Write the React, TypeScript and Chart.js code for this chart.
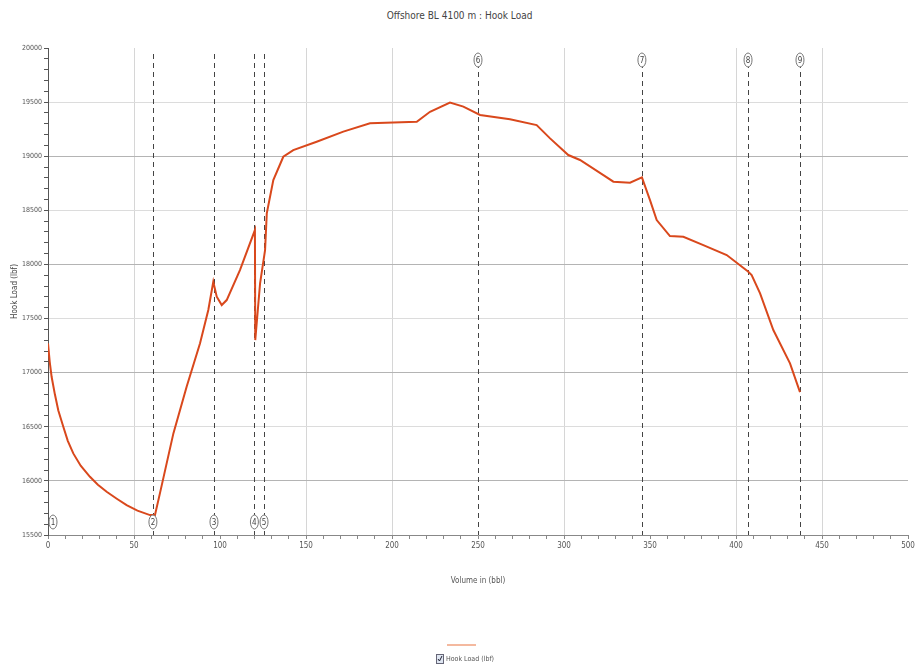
import React, { useEffect, useRef } from 'react';
import { Chart, registerables } from 'chart.js';

Chart.register(...registerables);

const chartTitle = 'Offshore BL 4100 m : Hook Load';
const xAxisTitle = 'Volume in (bbl)';
const yAxisTitle = 'Hook Load (lbf)';
const seriesLabel = 'Hook Load (lbf)';

const volumes = [
  0, 1, 2.1, 4, 6, 8.9, 11.5, 14.7, 19, 24.4, 29, 34.1, 40, 45.7, 52, 59.3, 62.2, 65.1, 72.9, 80.6, 88.4, 93.2, 96.1, 98.1,
  101, 103.9, 111.6, 120.3, 120.5, 123.3, 126.2, 127.2, 131, 136.8, 142.6, 156.2, 171.7, 187.2,
  214.4, 222.1, 233.7, 241.5, 251.2, 268.6, 284.1, 291.9, 302.5, 309.3, 322.9, 328.7, 338.4,
  345.3, 350, 353.9, 361.6, 369.4, 381, 394.6, 407, 409.1, 414, 421.7, 431.4, 437.2,
];
const hookLoads = [
  17270, 17100, 16962, 16800, 16650, 16500, 16370, 16254, 16140, 16038, 15965, 15899, 15835, 15776, 15725, 15684, 15684, 15887, 16439, 16870, 17271, 17579, 17840, 17702,
  17625, 17671, 17948, 18318, 17301, 17825, 18133, 18472, 18780, 18995, 19057, 19134, 19227, 19304,
  19319, 19411, 19495, 19458, 19381, 19341, 19288, 19165, 19011, 18965, 18826, 18765, 18755,
  18805, 18595, 18410, 18262, 18256, 18179, 18087, 17935, 17902, 17733, 17394, 17086, 16820,
];

const markerVolumes = [0, 61, 96.5, 120, 125.6, 250, 345.3, 407, 437.2];
const markerLabels = ['1', '2', '3', '4', '5', '6', '7', '8', '9'];

const xTickValues = [0, 50, 100, 150, 200, 250, 300, 350, 400, 450, 500];
const xGridValues = [50, 150, 200, 300, 400, 450];
const yTickValues = [15500, 16000, 16500, 17000, 17500, 18000, 18500, 19000, 19500, 20000];

const FONT = "'Liberation Sans Narrow', 'DejaVu Sans Condensed', 'Arial Narrow', sans-serif";

const markerPlugin = {
  id: 'markers',
  beforeDatasetsDraw(chart: any) {
    const { ctx, chartArea, scales } = chart;
    ctx.save();
    ctx.strokeStyle = '#444';
    ctx.lineWidth = 1;
    ctx.setLineDash([5, 4]);
    markerVolumes.forEach((v) => {
      if (v === 0) return;
      const x = Math.round(scales.x.getPixelForValue(v)) + 0.5;
      ctx.beginPath();
      ctx.moveTo(x, chartArea.top + 6);
      ctx.lineTo(x, chartArea.bottom);
      ctx.stroke();
    });
    ctx.restore();
  },
  afterDatasetsDraw(chart: any) {
    const { ctx, chartArea, scales } = chart;
    ctx.save();
    ctx.font = `8px ${FONT}`;
    ctx.textAlign = 'center';
    ctx.textBaseline = 'middle';
    markerVolumes.forEach((v, i) => {
      let x = scales.x.getPixelForValue(v);
      if (v === 0) x += 5;
      const top = i >= 5;
      const y = top ? chartArea.top + 12 : chartArea.bottom - 13;
      ctx.beginPath();
      ctx.ellipse(x, y, 4, 7, 0, 0, Math.PI * 2);
      ctx.fillStyle = '#fff';
      ctx.fill();
      ctx.strokeStyle = '#777';
      ctx.lineWidth = 1;
      ctx.setLineDash([]);
      ctx.stroke();
      ctx.fillStyle = '#444';
      ctx.fillText(markerLabels[i], x, y + 0.5);
    });
    ctx.restore();
  },
  afterDraw(chart: any) {
    const { ctx, chartArea } = chart;
    const cx = (chartArea.left + chartArea.right) / 2;
    ctx.save();
    ctx.strokeStyle = '#f0a27f';
    ctx.lineWidth = 1.5;
    ctx.beginPath();
    ctx.moveTo(cx - 31, 645);
    ctx.lineTo(cx - 2, 645);
    ctx.stroke();
    const bx = cx - 42;
    const by = 654;
    ctx.fillStyle = '#dfe6f2';
    ctx.fillRect(bx, by, 7, 9);
    ctx.strokeStyle = '#667';
    ctx.lineWidth = 1;
    ctx.strokeRect(bx + 0.5, by + 0.5, 7, 9);
    ctx.strokeStyle = '#223';
    ctx.beginPath();
    ctx.moveTo(bx + 2, by + 5);
    ctx.lineTo(bx + 3.5, by + 7);
    ctx.lineTo(bx + 6, by + 2);
    ctx.stroke();
    ctx.fillStyle = '#555';
    ctx.font = `7px ${FONT}`;
    ctx.textAlign = 'left';
    ctx.textBaseline = 'middle';
    ctx.fillText(seriesLabel, bx + 10, by + 5);
    ctx.restore();
  },
};

export default function App() {
  const canvasRef = useRef<HTMLCanvasElement | null>(null);

  useEffect(() => {
    if (!canvasRef.current) return;
    const points = volumes.map((v, i) => ({ x: v, y: hookLoads[i] }));
    const chart = new Chart(canvasRef.current, {
      type: 'line',
      data: {
        datasets: [
          {
            label: seriesLabel,
            data: points,
            borderColor: '#d9481c',
            backgroundColor: '#d9481c',
            borderWidth: 2,
            pointRadius: 0,
            tension: 0,
            fill: false,
          },
        ],
      },
      options: {
        animation: false,
        responsive: true,
        maintainAspectRatio: false,
        layout: { padding: { top: 48, left: 0, right: 11, bottom: 82 } },
        plugins: {
          legend: { display: false },
          tooltip: { enabled: false },
          title: { display: false },
        },
        scales: {
          x: {
            type: 'linear',
            min: 0,
            max: 500,
            afterFit(scale: any) {
              scale.height = 55;
            },
            afterBuildTicks(scale: any) {
              const t: any[] = [];
              for (let v = 0; v <= 500; v += 10) t.push({ value: v });
              scale.ticks = t;
            },
            ticks: {
              autoSkip: false,
              maxRotation: 0,
              color: '#555',
              font: { family: FONT, size: 8 },
              padding: 2,
              callback: (v: any) => (xTickValues.includes(Number(v)) ? String(v) : ''),
            },
            grid: {
              color: (c: any) => (c.tick && xGridValues.includes(c.tick.value) ? '#d6d6d6' : 'rgba(0,0,0,0)'),
              tickColor: '#888',
              tickLength: 4,
            },
            border: { color: '#888' },
            title: {
              display: true,
              text: xAxisTitle,
              color: '#555',
              font: { family: FONT, size: 8 },
              padding: { top: 4, bottom: 4 },
            },
          },
          y: {
            type: 'linear',
            min: 15500,
            max: 20000,
            afterFit(scale: any) {
              scale.width = 48;
            },
            afterBuildTicks(scale: any) {
              const t: any[] = [];
              for (let v = 15500; v <= 20000; v += 100) t.push({ value: v });
              scale.ticks = t;
            },
            ticks: {
              autoSkip: false,
              color: '#555',
              font: { family: FONT, size: 7 },
              padding: 2,
              callback: (v: any) => (yTickValues.includes(Number(v)) ? String(v) : ''),
            },
            grid: {
              color: (c: any) => {
                const v = c.tick ? c.tick.value : 0;
                if (v === 15500 || v === 20000) return 'rgba(0,0,0,0)';
                if (v % 1000 === 0) return '#b4b4b4';
                if (v % 500 === 0) return '#dcdcdc';
                return 'rgba(0,0,0,0)';
              },
              tickColor: '#555',
              tickLength: 4,
            },
            border: { color: '#555' },
            title: {
              display: true,
              text: yAxisTitle,
              color: '#444',
              font: { family: FONT, size: 8 },
              padding: { top: 10, bottom: 0 },
            },
          },
        },
      },
      plugins: [markerPlugin],
    });
    return () => chart.destroy();
  }, []);

  return (
    <div style={{ position: 'fixed', left: 0, top: 0, width: 919, height: 672, background: '#fff' }}>
      <div
        style={{
          position: 'absolute',
          top: 10,
          left: 0,
          width: 919,
          textAlign: 'center',
          font: `10px ${FONT}`,
          color: '#444',
        }}
      >
        {chartTitle}
      </div>
      <canvas ref={canvasRef} width={919} height={672} style={{ position: 'absolute', left: 0, top: 0 }} />
    </div>
  );
}
